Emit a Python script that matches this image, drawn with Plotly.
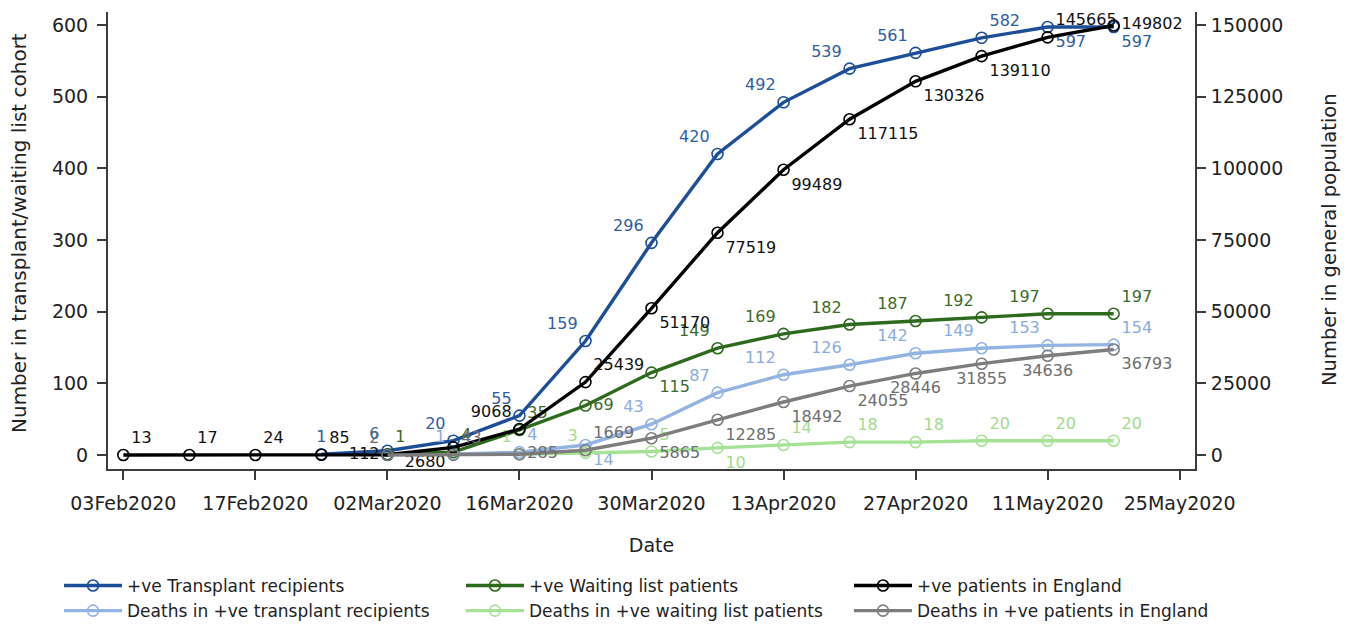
import plotly.graph_objects as go

# Weekly reporting dates
dates = ["2020-02-03", "2020-02-10", "2020-02-17", "2020-02-24", "2020-03-02",
         "2020-03-09", "2020-03-16", "2020-03-23", "2020-03-30", "2020-04-06",
         "2020-04-13", "2020-04-20", "2020-04-27", "2020-05-04", "2020-05-11",
         "2020-05-18"]

# Cumulative counts (left axis: transplant / waiting list cohort)
transplant_pos = [None, None, None, 1, 6, 20, 55, 159, 296, 420, 492, 539, 561, 582, 597, 597]
waiting_pos = [None, None, None, None, 1, 4, 35, 69, 115, 149, 169, 182, 187, 192, 197, 197]
transplant_deaths = [None, None, None, None, None, 1, 4, 14, 43, 87, 112, 126, 142, 149, 153, 154]
waiting_deaths = [None, None, None, None, None, None, 1, 3, 5, 10, 14, 18, 18, 20, 20, 20]

# Cumulative counts (right axis: general population of England)
england_pos = [13, 17, 24, 85, 112, 2680, 9068, 25439, 51170, 77519, 99489, 117115,
               130326, 139110, 145665, 149802]
england_deaths = [None, None, None, None, 2, 43, 285, 1669, 5865, 12285, 18492, 24055,
                  28446, 31855, 34636, 36793]

# Label placement for each point
TL, TC, TR = "top left", "top center", "top right"
ML, MR = "middle left", "middle right"
BL, BC, BR = "bottom left", "bottom center", "bottom right"
transplant_pos_lbl = [TR, TR, TR, TC, TL, TL, TL, TL, TL, TL, TL, TL, TL, TR, BR, BR]
waiting_pos_lbl = [TR, TR, TR, TR, TR, TR, TR, MR, BR, TL, TL, TL, TL, TL, TL, TR]
transplant_deaths_lbl = [TR] * 5 + [TL, TR, BR, TL, TL, TL, TL, TL, TL, TL, TR]
waiting_deaths_lbl = [TR] * 6 + [TL, TL, TR, BR, TR, TR, TR, TR, TR, TR]
england_pos_lbl = [TR, TR, TR, TR, ML, BL, TL, TR, BR, BR, BR, BR, BR, BR, TR, MR]
england_deaths_lbl = [TR] * 4 + [TL, TR, MR, TR, BR, BR, BR, BR, BC, BC, BC, BR]

tick_dates = ["2020-02-03", "2020-02-17", "2020-03-02", "2020-03-16", "2020-03-30",
              "2020-04-13", "2020-04-27", "2020-05-11", "2020-05-25"]
tick_text = ["03Feb2020", "17Feb2020", "02Mar2020", "16Mar2020", "30Mar2020",
             "13Apr2020", "27Apr2020", "11May2020", "25May2020"]
left_ticks = [0, 100, 200, 300, 400, 500, 600]
right_ticks = [0, 25000, 50000, 75000, 100000, 125000, 150000]

FONT = "DejaVu Sans"

# name, values, label positions, line colour, label colour, y axis, legend column
series = [
    ("+ve Transplant recipients", transplant_pos, transplant_pos_lbl, "#1d4e98", "#2f5ca6", "y", "legend"),
    ("+ve Waiting list patients", waiting_pos, waiting_pos_lbl, "#2e6a1d", "#3d6b2b", "y", "legend2"),
    ("+ve patients in England", england_pos, england_pos_lbl, "#000000", "#111111", "y2", "legend3"),
    ("Deaths in +ve transplant recipients", transplant_deaths, transplant_deaths_lbl, "#93b3e2", "#8aace0", "y", "legend"),
    ("Deaths in +ve waiting list patients", waiting_deaths, waiting_deaths_lbl, "#a6e295", "#9fdc8c", "y", "legend2"),
    ("Deaths in +ve patients in England", england_deaths, england_deaths_lbl, "#7d7d7d", "#6e6e6e", "y2", "legend3"),
]

fig = go.Figure()
for name, vals, pos, col, tcol, ax, leg in series:
    labels = ["" if v is None else str(v) for v in vals]
    fig.add_trace(go.Scatter(
        x=dates, y=vals, name=name, yaxis=ax, legend=leg,
        mode="lines+markers+text",
        line=dict(color=col, width=3.4),
        marker=dict(symbol="circle-open", size=11, color=col, line=dict(width=1.6, color=col)),
        text=labels, textposition=pos,
        textfont=dict(family=FONT, size=16, color=tcol),
        connectgaps=False,
        cliponaxis=False,
    ))

axis_line = "#3c3c3c"
legend_style = dict(
    orientation="v", xref="container", yref="container",
    y=1 - 568 / 625, xanchor="left", yanchor="top",
    font=dict(size=17, color="#222222"), itemwidth=58,
    traceorder="normal", tracegroupgap=0, bgcolor="rgba(0,0,0,0)",
)

fig.update_layout(
    width=1351, height=625,
    margin=dict(l=108, r=156, t=12, b=156, autoexpand=False),
    paper_bgcolor="white", plot_bgcolor="white",
    font=dict(family=FONT, size=18, color="#222222"),
    xaxis=dict(
        type="date", range=["2020-02-01 09:00", "2020-05-26 15:00"],
        tickvals=tick_dates, ticktext=tick_text,
        ticks="outside", ticklen=9, tickwidth=1.5, tickcolor=axis_line,
        ticklabelstandoff=7,
        showline=True, linecolor=axis_line, linewidth=2,
        showgrid=False, zeroline=False,
        tickfont=dict(size=19),
        title=dict(text="Date", font=dict(size=19), standoff=26),
    ),
    yaxis=dict(
        range=[-19.5, 618], tickvals=left_ticks,
        ticks="outside", ticklen=9, tickwidth=1.5, tickcolor=axis_line,
        ticklabelstandoff=5,
        showline=True, linecolor=axis_line, linewidth=2,
        showgrid=False, zeroline=False,
        tickfont=dict(size=19),
    ),
    yaxis2=dict(
        overlaying="y", side="right",
        range=[-4875, 154500], tickvals=right_ticks, tickformat="d",
        ticks="outside", ticklen=9, tickwidth=1.5, tickcolor=axis_line,
        ticklabelstandoff=1,
        showline=True, linecolor=axis_line, linewidth=2,
        showgrid=False, zeroline=False,
        tickfont=dict(size=19),
    ),
    legend=dict(x=59 / 1351, **legend_style),
    legend2=dict(x=461 / 1351, **legend_style),
    legend3=dict(x=849 / 1351, **legend_style),
    showlegend=True,
)

# Vertical axis titles
fig.add_annotation(text="Number in transplant/waiting list cohort", textangle=-90,
                   xref="paper", yref="paper", x=(19 - 108) / 1087, y=(469 - 233) / 457,
                   xanchor="center", yanchor="middle",
                   showarrow=False, font=dict(size=20, color="#222222"))
fig.add_annotation(text="Number in general population", textangle=-90,
                   xref="paper", yref="paper", x=(1329 - 108) / 1087, y=(469 - 240) / 457,
                   xanchor="center", yanchor="middle",
                   showarrow=False, font=dict(size=19.5, color="#222222"))

fig.write_html("out.html")
